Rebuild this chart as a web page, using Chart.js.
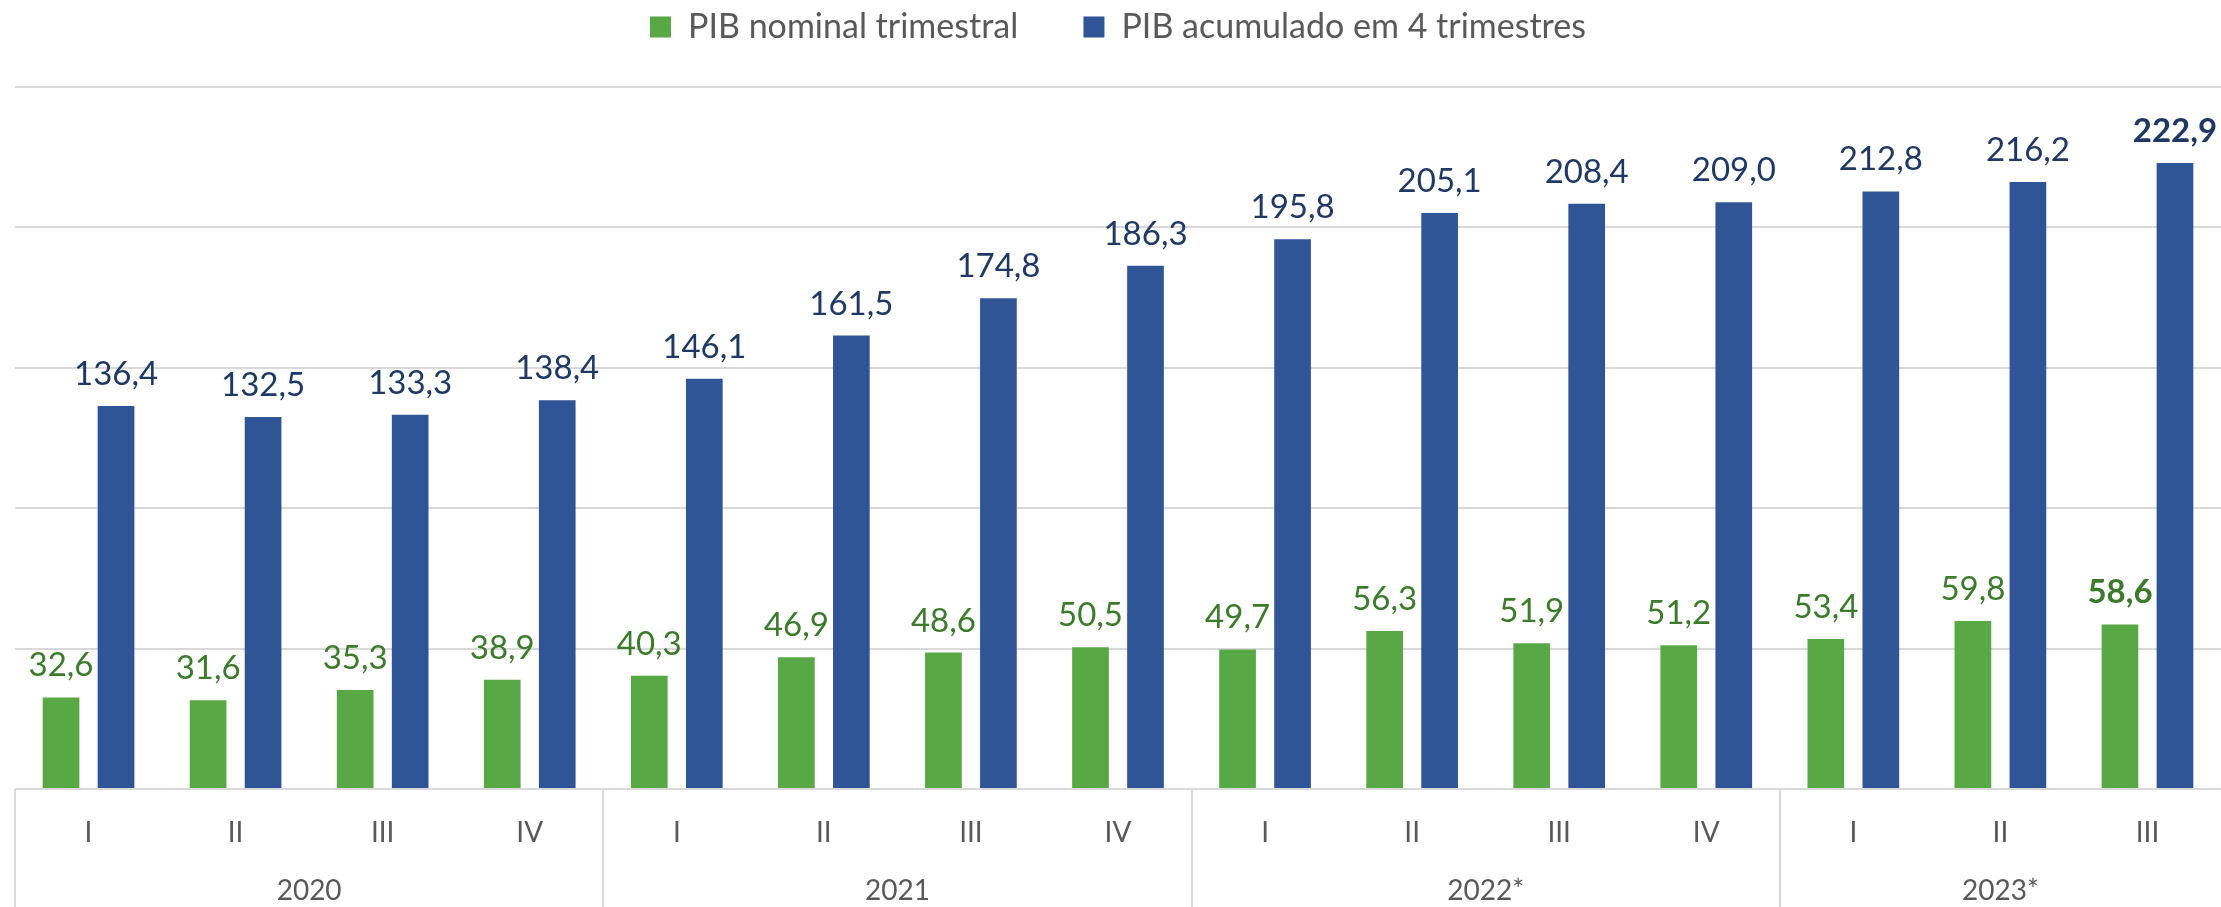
<!DOCTYPE html>
<html lang="pt">
<head>
<meta charset="utf-8">
<title>PIB nominal trimestral e acumulado em 4 trimestres</title>
<script src="https://cdn.jsdelivr.net/npm/chart.js@4.4.1/dist/chart.umd.min.js"></script>
<style>
  html, body { margin: 0; padding: 0; background: #fff; }
  #wrap { width: 2221px; height: 907px; }
</style>
</head>
<body>
<div id="wrap"><canvas id="pibChart" width="2221" height="907"></canvas></div>
<script>
// Dados
const quarters = ['I', 'II', 'III', 'IV', 'I', 'II', 'III', 'IV', 'I', 'II', 'III', 'IV', 'I', 'II', 'III'];
const years = ['2020', '2021', '2022*', '2023*'];
const quartersPerYear = [4, 4, 4, 3];
const pibTrimestral = [32.6, 31.6, 35.3, 38.9, 40.3, 46.9, 48.6, 50.5, 49.7, 56.3, 51.9, 51.2, 53.4, 59.8, 58.6];
const pibAcumulado = [136.4, 132.5, 133.3, 138.4, 146.1, 161.5, 174.8, 186.3, 195.8, 205.1, 208.4, 209.0, 212.8, 216.2, 222.9];

// centros e limites dos grupos de anos (em unidades de categoria)
const yearCenters = [];
const yearBounds = [];
let start = -0.5;
quartersPerYear.forEach(n => {
    yearBounds.push(start);
    yearCenters.push(start + n / 2);
    start += n;
});

const textGray = '#595959';
const gridGray = '#d9d9d9';

Chart.defaults.font.family = 'Lato';

// rótulos de valor acima das barras
const valueLabels = {
    id: 'valueLabels',
    afterDatasetsDraw(chart) {
        const ctx = chart.ctx;
        ctx.save();
        ctx.textAlign = 'center';
        ctx.textBaseline = 'alphabetic';
        chart.data.datasets.forEach((ds, di) => {
            const meta = chart.getDatasetMeta(di);
            meta.data.forEach((bar, i) => {
                const last = i === ds.data.length - 1;
                ctx.font = (last ? 'bold ' : '') + '33px Lato';
                ctx.fillStyle = ds.labelColor;
                ctx.fillText(ds.data[i].toFixed(1).replace('.', ','), bar.x, bar.y - 21);
            });
        });
        ctx.restore();
    }
};

// linhas verticais entre os anos no eixo x
const yearSeparators = {
    id: 'yearSeparators',
    afterDraw(chart) {
        const ctx = chart.ctx;
        const axis = chart.scales.x2;
        ctx.save();
        ctx.strokeStyle = gridGray;
        ctx.lineWidth = 2;
        yearBounds.forEach(v => {
            const px = Math.round(axis.getPixelForValue(v));
            ctx.beginPath();
            ctx.moveTo(px, chart.chartArea.bottom);
            ctx.lineTo(px, chart.height);
            ctx.stroke();
        });
        ctx.restore();
    }
};

// espaço extra abaixo da legenda
const legendSpacing = {
    id: 'legendSpacing',
    beforeInit(chart) {
        const fit = chart.legend.fit;
        chart.legend.fit = function () {
            fit.call(this);
            this.height = 87;
        };
    }
};

new Chart(document.getElementById('pibChart'), {
    type: 'bar',
    data: {
        labels: quarters,
        datasets: [
            {
                label: 'PIB nominal trimestral',
                data: pibTrimestral,
                backgroundColor: '#58a846',
                labelColor: '#3c7a2c',
                borderWidth: 0,
                categoryPercentage: 0.748,
                barPercentage: 0.667
            },
            {
                label: 'PIB acumulado em 4 trimestres',
                data: pibAcumulado,
                backgroundColor: '#2f5597',
                labelColor: '#203864',
                borderWidth: 0,
                categoryPercentage: 0.748,
                barPercentage: 0.667
            }
        ]
    },
    options: {
        responsive: false,
        animation: false,
        layout: {
            padding: { left: 15, right: 0, top: 0, bottom: 0 }
        },
        plugins: {
            tooltip: { enabled: false },
            legend: {
                position: 'top',
                labels: {
                    boxWidth: 21,
                    boxHeight: 21,
                    padding: 10,
                    color: textGray,
                    font: { size: 34 },
                    generateLabels(chart) {
                        const items = Chart.defaults.plugins.legend.labels.generateLabels(chart);
                        items[0].text += '\u2003\u2003\u2009';
                        return items;
                    }
                }
            }
        },
        scales: {
            x: {
                grid: { display: false, drawTicks: false },
                border: { display: false },
                afterFit(scale) { scale.height = 60; },
                ticks: {
                    color: textGray,
                    font: { size: 28, lineHeight: 1 },
                    padding: 30,
                    maxRotation: 0,
                    autoSkip: false
                }
            },
            x2: {
                type: 'linear',
                position: 'bottom',
                offset: false,
                min: -0.5,
                max: quarters.length - 0.5,
                grid: { display: false, drawTicks: false },
                border: { display: false },
                afterFit(scale) { scale.height = 58; },
                afterBuildTicks(axis) {
                    axis.ticks = yearCenters.map(v => ({ value: v }));
                },
                ticks: {
                    color: textGray,
                    font: { size: 28, lineHeight: 1 },
                    padding: 28,
                    maxRotation: 0,
                    autoSkip: false,
                    callback: (v, i) => years[i]
                }
            },
            y: {
                min: 0,
                max: 250,
                ticks: { display: false, stepSize: 50 },
                border: { display: false },
                grid: { color: gridGray, lineWidth: 2, drawTicks: false }
            }
        }
    },
    plugins: [valueLabels, yearSeparators, legendSpacing]
});
</script>
</body>
</html>
